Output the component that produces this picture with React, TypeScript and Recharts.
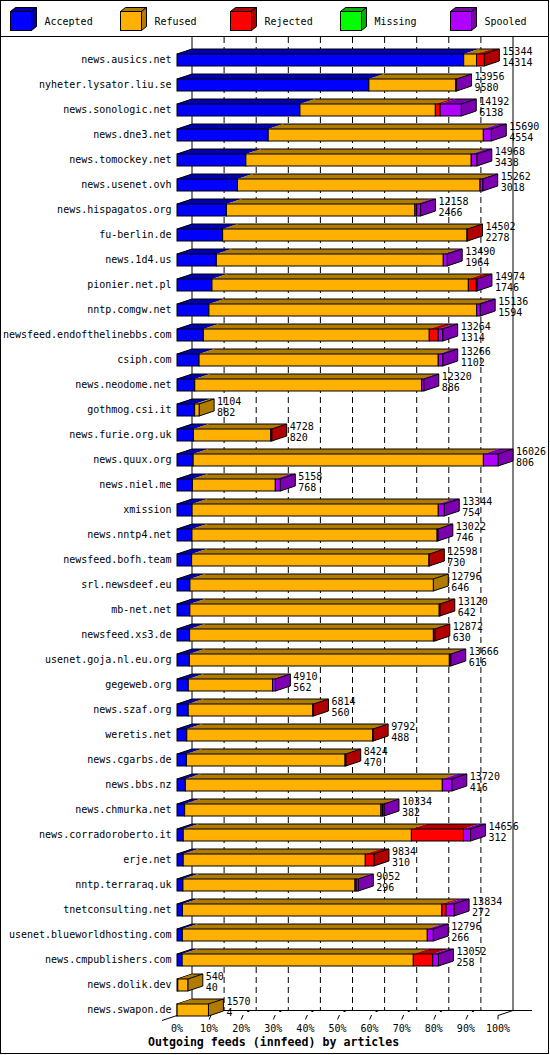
import React from 'react';
import { BarChart, Bar, XAxis, YAxis, CartesianGrid } from 'recharts';

const categories = [
  'news.ausics.net', 'nyheter.lysator.liu.se', 'news.sonologic.net', 'news.dne3.net',
  'news.tomockey.net', 'news.usenet.ovh', 'news.hispagatos.org', 'fu-berlin.de',
  'news.1d4.us', 'pionier.net.pl', 'nntp.comgw.net', 'newsfeed.endofthelinebbs.com',
  'csiph.com', 'news.neodome.net', 'gothmog.csi.it', 'news.furie.org.uk',
  'news.quux.org', 'news.niel.me', 'xmission', 'news.nntp4.net',
  'newsfeed.bofh.team', 'srl.newsdeef.eu', 'mb-net.net', 'newsfeed.xs3.de',
  'usenet.goja.nl.eu.org', 'gegeweb.org', 'news.szaf.org', 'weretis.net',
  'news.cgarbs.de', 'news.bbs.nz', 'news.chmurka.net', 'news.corradoroberto.it',
  'erje.net', 'nntp.terraraq.uk', 'tnetconsulting.net', 'usenet.blueworldhosting.com',
  'news.cmpublishers.com', 'news.dolik.dev', 'news.swapon.de',
];

const offered = [
  15344, 13956, 14192, 15690, 14968, 15262, 12158, 14502, 13490, 14974, 15136, 13264,
  13266, 12320, 1104, 4728, 16026, 5158, 13344, 13022, 12598, 12796, 13120, 12872,
  13666, 4910, 6814, 9792, 8424, 13720, 10334, 14656, 9834, 9052, 13834, 12796,
  13052, 540, 1570,
];

const accepted = [
  14314, 9580, 6138, 4554, 3438, 3018, 2466, 2278, 1964, 1746, 1594, 1314,
  1102, 886, 882, 820, 806, 768, 754, 746, 730, 646, 642, 630,
  616, 562, 560, 488, 470, 416, 382, 312, 310, 296, 272, 266,
  258, 40, 4,
];

const refused = [
  640, 4336, 6760, 10740, 11250, 12110, 9410, 12200, 11330, 12800, 13370, 11280,
  11940, 11330, 222, 3860, 14490, 4140, 12290, 12240, 11850, 12150, 12450, 12170,
  12980, 4210, 6220, 9280, 7920, 12830, 9800, 11390, 9090, 8590, 12950, 12230,
  11540, 500, 1566,
];

const rejected = [
  390, 0, 240, 0, 0, 0, 90, 24, 0, 400, 0, 450,
  0, 0, 0, 48, 0, 0, 0, 0, 18, 0, 28, 72,
  0, 0, 34, 24, 34, 0, 80, 2600, 434, 60, 210, 0,
  970, 0, 0,
];

const missing = [
  0, 0, 0, 0, 0, 0, 0, 0, 0, 0, 0, 0,
  0, 0, 0, 0, 0, 0, 0, 0, 0, 0, 0, 0,
  0, 0, 0, 0, 0, 0, 0, 0, 0, 0, 0, 0,
  0, 0, 0,
];

const spooled = [
  0, 40, 1054, 396, 280, 134, 192, 0, 196, 28, 172, 220,
  224, 104, 0, 0, 730, 250, 300, 36, 0, 0, 0, 0,
  70, 138, 0, 0, 0, 474, 72, 354, 0, 106, 402, 300,
  284, 0, 0,
];

const seriesKeys = ['accepted', 'refused', 'rejected', 'missing', 'spooled'];
const seriesNames = ['Accepted', 'Refused', 'Rejected', 'Missing', 'Spooled'];
const tickPercents = [0, 10, 20, 30, 40, 50, 60, 70, 80, 90, 100];

// styles
const frontColors = ['#0000ff', '#ffb000', '#ff0000', '#00ff00', '#b000ff'];
const darkColors = ['#0000b0', '#b07c00', '#b00000', '#00b000', '#7c00b0'];

const data = categories.map((name, i) => ({
  name,
  offered: offered[i],
  accepted: accepted[i],
  refused: refused[i],
  rejected: rejected[i],
  missing: missing[i],
  spooled: spooled[i],
}));

const MAX = Math.max(...offered);
const TICKS = tickPercents.map((p) => (MAX * p) / 100);

const W = 550;
const H = 1055;
const PLOT_LEFT = 177;
const PLOT_RIGHT = 498;
const PLOT_TOP = 47;
const X_AXIS_H = 33;
const DX = 15;
const DY = 5;
const WALL_TOP = 37;
const FLOOR_Y = 1010.5;
const FLOOR_FRONT = 1015.5;
const FONT = '"DejaVu Sans Mono", monospace';

const makeShape = (si: number) => (props: any) => {
  const { x, y, width, height, payload } = props;
  if (!(width > 0) || !payload) return <g />;
  const vals = seriesKeys.map((k) => payload[k]);
  let first = -1;
  let last = -1;
  vals.forEach((v, i) => {
    if (v > 0) {
      if (first < 0) first = i;
      last = i;
    }
  });
  const x2 = x + width;
  const y2 = y + height;
  const isFirst = si === first;
  const isLast = si === last;
  return (
    <g>
      <polygon
        points={`${x},${y} ${x + DX},${y - DY} ${x2 + DX},${y - DY} ${x2},${y}`}
        fill={darkColors[si]}
        stroke="none"
      />
      <line x1={x + DX} y1={y - DY} x2={x2 + DX} y2={y - DY} stroke="#000" />
      {isFirst && <line x1={x} y1={y} x2={x + DX} y2={y - DY} stroke="#000" />}
      {isLast && (
        <polygon
          points={`${x2},${y} ${x2 + DX},${y - DY} ${x2 + DX},${y2 - DY} ${x2},${y2}`}
          fill={darkColors[si]}
          stroke="#000"
        />
      )}
      <rect x={x} y={y} width={width} height={height} fill={frontColors[si]} stroke="#000" />
      {isLast && (
        <g fontFamily={FONT} fontSize={10} fill="#000">
          <text x={x2 + DX + 3} y={y - 3} dy="0.36em">{payload.offered}</text>
          <text x={x2 + DX + 3} y={y + 8} dy="0.36em">{payload.accepted}</text>
        </g>
      )}
    </g>
  );
};

const shapes = seriesKeys.map((_, i) => makeShape(i));
const emptyShape = () => <g />;

const CatTick = (props: any) => {
  const { y, payload } = props;
  return (
    <text x={PLOT_LEFT - 5.5} y={y} dy="0.36em" textAnchor="end" fontFamily={FONT} fontSize={10} fill="#000">
      {payload.value}
    </text>
  );
};

const PctTick = (props: any) => {
  const { x, payload } = props;
  const pct = Math.round((payload.value / MAX) * 100);
  let mark: React.ReactNode;
  if (pct === 0) {
    mark = <line x1={x - DX} y1={FLOOR_FRONT + 5} x2={x} y2={FLOOR_FRONT} stroke="#000" />;
  } else if (pct === 100) {
    mark = (
      <g stroke="#000">
        <line x1={x} y1={FLOOR_FRONT + 4} x2={x} y2={FLOOR_FRONT} />
        <line x1={x} y1={FLOOR_FRONT} x2={x + DX} y2={FLOOR_Y} />
      </g>
    );
  } else {
    mark = (
      <g stroke="#000">
        <line x1={x} y1={FLOOR_FRONT + 4} x2={x + 2} y2={FLOOR_FRONT - 0.5} />
        <rect x={x + 6} y={FLOOR_Y - 0.5} width={2} height={2} fill="#000" stroke="none" />
      </g>
    );
  }
  return (
    <g>
      {mark}
      <text x={x} y={1028} dy="0.36em" textAnchor="middle" fontFamily={FONT} fontSize={10} fill="#000">
        {pct}%
      </text>
    </g>
  );
};

const gridLine = (p: any) => {
  const isLeft = Math.abs(p.x1 - PLOT_LEFT) < 1;
  const isRight = Math.abs(p.x1 - PLOT_RIGHT) < 1;
  const x = p.x1 + DX;
  return (
    <g key={p.key}>
      <line
        x1={x}
        y1={WALL_TOP}
        x2={x}
        y2={FLOOR_Y}
        stroke="#000"
        strokeDasharray={isLeft || isRight ? undefined : '6 4'}
      />
      {isLeft && <line x1={x} y1={FLOOR_Y} x2={W - 18} y2={FLOOR_Y} stroke="#000" />}
    </g>
  );
};

const Overlay = () => (
  <svg
    width={W}
    height={H}
    style={{ position: 'absolute', left: 0, top: 0, pointerEvents: 'none' }}
  >
    <rect x={0.5} y={0.5} width={548} height={1053} fill="none" stroke="#000" />
    <line x1={0.5} y1={36.5} x2={548.5} y2={36.5} stroke="#000" />
    {seriesNames.map((n, i) => {
      const x0 = 10.5 + 110 * i;
      const y0 = 11.5;
      const w = 21;
      const h = 19;
      const d = 5;
      const dy = 4;
      return (
        <g key={n}>
          <polygon
            points={`${x0},${y0} ${x0 + d},${y0 - dy} ${x0 + w + d},${y0 - dy} ${x0 + w},${y0}`}
            fill={darkColors[i]}
            stroke="#000"
          />
          <polygon
            points={`${x0 + w},${y0} ${x0 + w + d},${y0 - dy} ${x0 + w + d},${y0 + h - dy} ${x0 + w},${y0 + h}`}
            fill={darkColors[i]}
            stroke="#000"
          />
          <rect x={x0} y={y0} width={w} height={h} fill={frontColors[i]} stroke="#000" />
          <text x={44.5 + 110 * i} y={21} dy="0.36em" fontFamily={FONT} fontSize={10} fill="#000">
            {n}
          </text>
        </g>
      );
    })}
    <text x={148} y={1042} dy="0.36em" fontFamily={FONT} fontSize={11.6} fontWeight="bold" fill="#000">
      Outgoing feeds (innfeed) by articles
    </text>
  </svg>
);

const chartMargin = { top: PLOT_TOP, right: W - PLOT_RIGHT, bottom: 0, left: 0 };
const layerStyle: React.CSSProperties = { position: 'absolute', left: 0, top: 0 };

export default function App() {
  return (
    <div style={{ position: 'absolute', left: 0, top: 0, width: W, height: H, background: '#fff' }}>
      {/* back layer: walls, grid, floor, percent ticks */}
      <div style={layerStyle}>
        <BarChart width={W} height={H} data={data} layout="vertical" margin={chartMargin} barSize={12}>
          <CartesianGrid horizontal={false} vertical={gridLine} />
          <XAxis
            type="number"
            domain={[0, MAX]}
            ticks={TICKS}
            interval={0}
            height={X_AXIS_H}
            axisLine={false}
            tickLine={false}
            tick={<PctTick />}
          />
          <YAxis type="category" dataKey="name" width={PLOT_LEFT} interval={0} axisLine={false} tickLine={false} tick={false} />
          {seriesKeys.map((k) => (
            <Bar key={k} dataKey={k} stackId="a" fill="none" shape={emptyShape} isAnimationActive={false} />
          ))}
        </BarChart>
      </div>
      {/* front layer: bars and category labels */}
      <div style={layerStyle}>
        <BarChart width={W} height={H} data={data} layout="vertical" margin={chartMargin} barSize={12}>
          <XAxis
            type="number"
            domain={[0, MAX]}
            ticks={TICKS}
            interval={0}
            height={X_AXIS_H}
            axisLine={false}
            tickLine={false}
            tick={false}
          />
          <YAxis
            type="category"
            dataKey="name"
            width={PLOT_LEFT}
            interval={0}
            axisLine={false}
            tickLine={false}
            tick={<CatTick />}
          />
          {seriesKeys.map((k, i) => (
            <Bar
              key={k}
              dataKey={k}
              name={seriesNames[i]}
              stackId="a"
              fill={frontColors[i]}
              shape={shapes[i]}
              isAnimationActive={false}
            />
          ))}
        </BarChart>
      </div>
      <Overlay />
    </div>
  );
}
